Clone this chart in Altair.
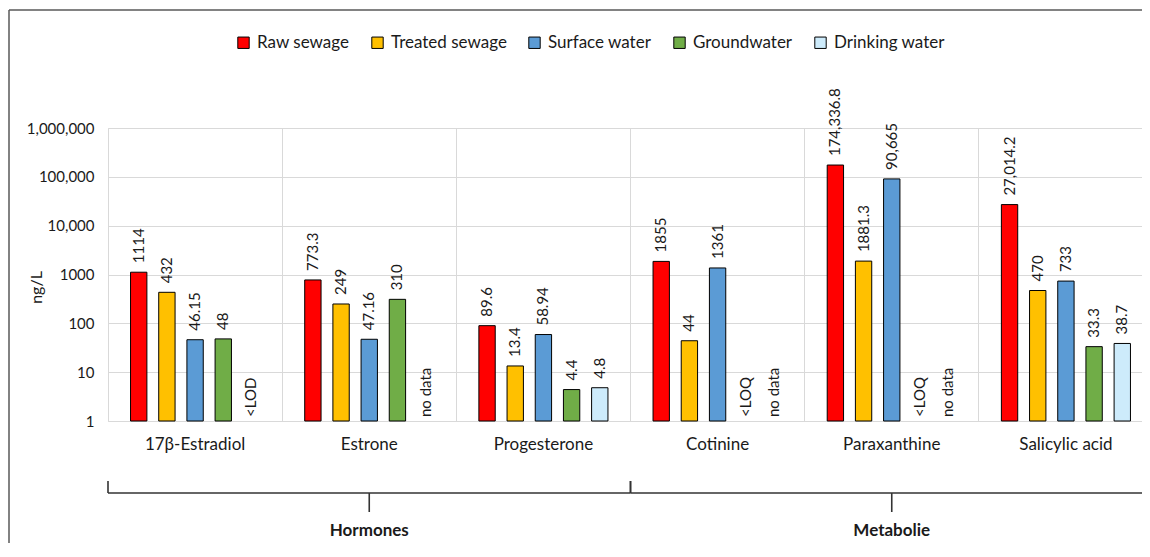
import altair as alt
import pandas as pd

categories = ["17β-Estradiol", "Estrone", "Progesterone", "Cotinine", "Paraxanthine", "Salicylic acid"]
series = ["Raw sewage", "Treated sewage", "Surface water", "Groundwater", "Drinking water"]
colors = ["#FF0000", "#FFC000", "#5B9BD5", "#70AD47", "#CDEBFB"]

raw_sewage = [1114, 773.3, 89.6, 1855, 174336.8, 27014.2]
treated_sewage = [432, 249, 13.4, 44, 1881.3, 470]
surface_water = [46.15, 47.16, 58.94, 1361, 90665, 733]
groundwater = [48, 310, 4.4, None, None, 33.3]
drinking_water = [None, None, 4.8, None, None, 38.7]

raw_labels = ["1114", "773.3", "89.6", "1855", "174,336.8", "27,014.2"]
treated_labels = ["432", "249", "13.4", "44", "1881.3", "470"]
surface_labels = ["46.15", "47.16", "58.94", "1361", "90,665", "733"]
ground_labels = ["48", "310", "4.4", "<LOQ", "<LOQ", "33.3"]
drinking_labels = ["<LOD", "no data", "4.8", "no data", "no data", "38.7"]

y_ticks = [1, 10, 100, 1000, 10000, 100000, 1000000]

groups = ["Hormones", "Metabolie"]
group_start = [0, 3]
group_end = [3, 6]

values = [raw_sewage, treated_sewage, surface_water, groundwater, drinking_water]
labels = [raw_labels, treated_labels, surface_labels, ground_labels, drinking_labels]

rows = []
for s, vals, labs in zip(series, values, labels):
    for c, v, l in zip(categories, vals, labs):
        rows.append({
            "category": c,
            "series": s,
            "value": v,
            "label": l,
            "ypos": v if v is not None else 1,
            "missing": v is None,
        })
df = pd.DataFrame(rows)
braces = pd.DataFrame({"group": groups, "start": group_start, "end": group_end})

FONT = "Lato"
TXT = "#1a1a1a"
W = 1034
H = 293
XR = [0, 1045]

x_enc = alt.X(
    "category:N", sort=categories,
    scale=alt.Scale(paddingInner=0, paddingOuter=0, range=XR),
    axis=alt.Axis(title=None, labelAngle=0, grid=True, bandPosition=0, ticks=False,
                  domain=False, labelPadding=15, labelFontSize=17, labelFont=FONT,
                  labelColor=TXT, gridColor="#d9d9d9", gridWidth=1),
)
xo_enc = alt.XOffset("series:N", sort=series,
                     scale=alt.Scale(paddingInner=0.42, paddingOuter=0.8))
y_scale = alt.Scale(type="log", domain=[1, 1000000])

base = alt.Chart(df)

bars = base.transform_filter("datum.value != null").mark_bar(
    stroke="black", strokeWidth=1
).encode(
    x=x_enc,
    xOffset=xo_enc,
    y=alt.Y("value:Q", scale=y_scale,
            axis=alt.Axis(title="ng/L", values=y_ticks, ticks=False, domain=False,
                          gridColor="#d9d9d9", labelFontSize=15, labelFont=FONT,
                          labelColor=TXT, labelPadding=14,
                          labelExpr="datum.value >= 10000 ? format(datum.value, ',') : format(datum.value, 'd')",
                          titleFont=FONT, titleFontSize=16, titleFontWeight="normal",
                          titleColor=TXT, titleAngle=270, titleAlign="center",
                          titleBaseline="middle", titleX=-72, titleY=159)),
    y2=alt.datum(1),
    color=alt.Color("series:N", sort=series,
                    scale=alt.Scale(domain=series, range=colors),
                    legend=alt.Legend(title=None, orient="none", direction="horizontal",
                                      columns=5, legendX=127, legendY=-94,
                                      symbolType="square", symbolSize=130,
                                      symbolStrokeColor="black", symbolStrokeWidth=1,
                                      labelFont=FONT, labelFontSize=17, labelColor=TXT,
                                      labelOffset=5, columnPadding=19)),
)

value_text = base.transform_filter("!datum.missing").mark_text(
    angle=270, align="left", baseline="middle", dx=9, font=FONT, fontSize=15, color=TXT
).encode(
    x=x_enc, xOffset=xo_enc,
    y=alt.Y("ypos:Q", scale=y_scale),
    text="label:N",
)

missing_text = base.transform_filter("datum.missing").mark_text(
    angle=270, align="left", baseline="middle", dx=4, font=FONT, fontSize=15, color=TXT
).encode(
    x=x_enc, xOffset=xo_enc,
    y=alt.Y("ypos:Q", scale=y_scale),
    text="label:N",
)

# frame lines
frame_v = alt.Chart(pd.DataFrame({"a": [0]})).mark_rule(color="#595959", strokeWidth=1.5).encode(
    x=alt.value(-99), y=alt.value(-118), y2=alt.value(H + 130))
frame_h = alt.Chart(pd.DataFrame({"a": [0]})).mark_rule(color="#595959", strokeWidth=1.5).encode(
    x=alt.value(-99), x2=alt.value(W + 20), y=alt.value(-118))

bx = alt.Scale(domain=[0, 6], range=XR)
bcol = "#333333"
bw = 1.6
bb = alt.Chart(braces)
brace_h = bb.mark_rule(color=bcol, strokeWidth=bw).encode(
    x=alt.X("start:Q", scale=bx, axis=None), x2="end:Q", y=alt.value(H + 72))
brace_l = bb.mark_rule(color=bcol, strokeWidth=bw).encode(
    x=alt.X("start:Q", scale=bx, axis=None), y=alt.value(H + 60), y2=alt.value(H + 72))
brace_r = bb.mark_rule(color=bcol, strokeWidth=bw).encode(
    x=alt.X("end:Q", scale=bx, axis=None), y=alt.value(H + 60), y2=alt.value(H + 72))
brace_m = bb.transform_calculate(mid="(datum.start + datum.end) / 2").mark_rule(
    color=bcol, strokeWidth=bw).encode(
    x=alt.X("mid:Q", scale=bx, axis=None), y=alt.value(H + 72), y2=alt.value(H + 91))
brace_t = bb.transform_calculate(mid="(datum.start + datum.end) / 2").mark_text(
    font=FONT, fontSize=17, fontWeight="bold", color=TXT, baseline="middle").encode(
    x=alt.X("mid:Q", scale=bx, axis=None), y=alt.value(H + 110), text="group:N")

main = alt.layer(bars, value_text, missing_text)
deco = alt.layer(frame_v, frame_h, brace_h, brace_l, brace_r, brace_m, brace_t)

chart = alt.layer(main, deco).resolve_scale(x="independent").properties(
    width=W, height=H,
    autosize=alt.AutoSizeParams(type="none"),
    padding={"left": 100, "top": 120, "right": 0, "bottom": 122},
).configure_view(stroke=None).configure(background="white")

chart.save("out.html", embed_options={"renderer": "svg", "actions": False})
